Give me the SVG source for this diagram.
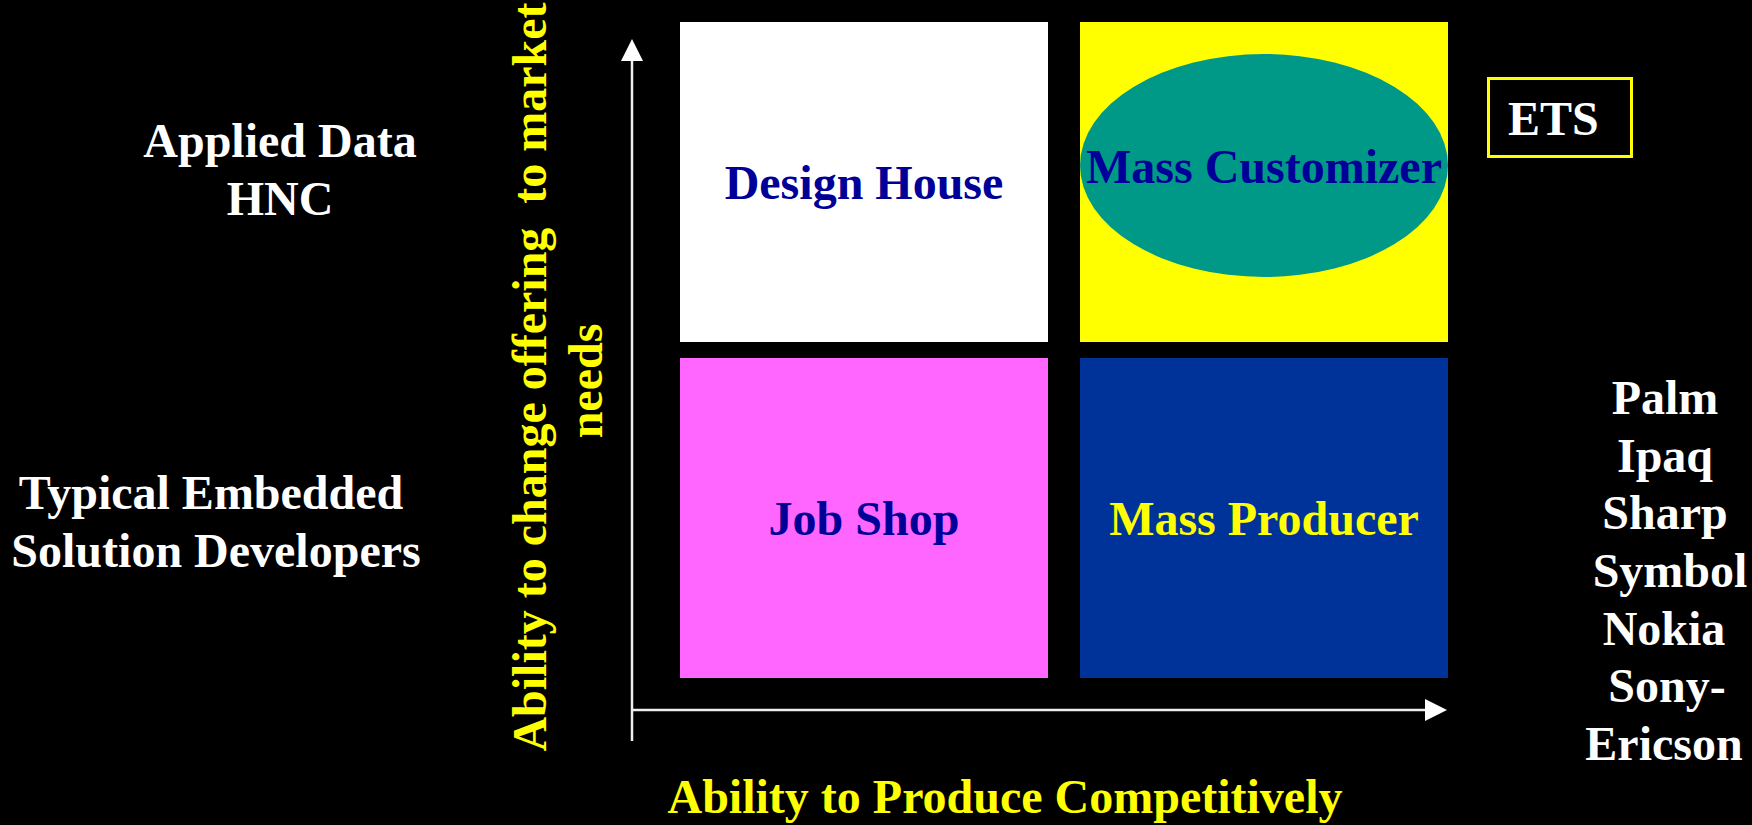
<svg xmlns="http://www.w3.org/2000/svg" width="1752" height="825" viewBox="0 0 1752 825">
<style>
text{font-family:"Liberation Serif","Times New Roman",serif;font-weight:bold;font-size:48px}
.w{fill:#FFFFFF}
.y{fill:#FFFF00}
.b{fill:#000099}
.m{text-anchor:middle}
.ax{stroke:#EEEEEE;stroke-width:2.5;fill:none}
.ah{fill:#FFFFFF}
</style>
<rect x="0" y="0" width="1752" height="825" fill="#000000"/>
<g id="connectors">
<line class="ax" x1="632" y1="741" x2="632" y2="60"/>
<polygon class="ah" points="632,39 621,61 643,61"/>
<line class="ax" x1="632" y1="710" x2="1426" y2="710"/>
<polygon class="ah" points="1447,710 1425,699 1425,721"/>
</g>
<g id="design-house">
<rect x="680" y="22" width="368" height="320" fill="#FFFFFF"/>
<text class="b m" x="864" y="199">Design House</text>
</g>
<g id="mass-customizer">
<rect x="1080" y="22" width="368" height="320" fill="#FFFF00"/>
<ellipse cx="1264" cy="165.5" rx="184" ry="111.5" fill="#009988"/>
<text class="b m" x="1264" y="183">Mass Customizer</text>
</g>
<g id="job-shop">
<rect x="680" y="358" width="368" height="320" fill="#FF66FF"/>
<text class="b m" x="864" y="535">Job Shop</text>
</g>
<g id="mass-producer">
<rect x="1080" y="358" width="368" height="320" fill="#003399"/>
<text class="y m" x="1264" y="535">Mass Producer</text>
</g>
<g id="ets">
<rect x="1488.5" y="78.5" width="143" height="78" fill="none" stroke="#FFFF00" stroke-width="3"/>
<text class="w" x="1508" y="135">ETS</text>
</g>
<g id="applied-data">
<text class="w m" x="280" y="157">Applied Data</text>
<text class="w m" x="280" y="215">HNC</text>
</g>
<g id="typical-embedded">
<text class="w m" x="211" y="509">Typical Embedded</text>
<text class="w m" x="216" y="567">Solution Developers</text>
</g>
<g id="companies">
<text class="w m" x="1665" y="414">Palm</text>
<text class="w m" x="1665" y="472">Ipaq</text>
<text class="w m" x="1665" y="529">Sharp</text>
<text class="w m" x="1670" y="587">Symbol</text>
<text class="w m" x="1664" y="645">Nokia</text>
<text class="w m" x="1667" y="702">Sony-</text>
<text class="w m" x="1664" y="760">Ericson</text>
</g>
<g id="y-axis-label">
<text class="y m" xml:space="preserve" transform="translate(546,377) rotate(-90)">Ability to change offering  to market</text>
<text class="y m" transform="translate(602,381) rotate(-90)">needs</text>
</g>
<g id="x-axis-label">
<text class="y m" x="1005" y="813">Ability to Produce Competitively</text>
</g>
</svg>
